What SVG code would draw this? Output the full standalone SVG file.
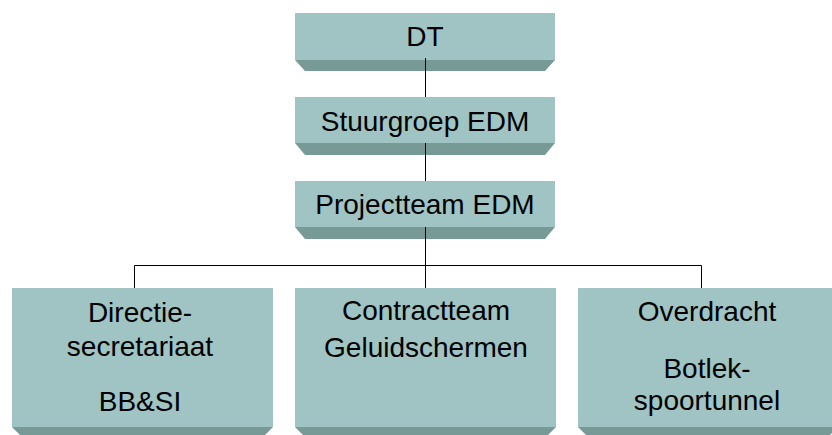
<svg xmlns="http://www.w3.org/2000/svg" width="832" height="435" viewBox="0 0 832 435">
<style>
.face{fill:#9fc4c3}
.bevel{fill:#789a97}
.t{font-family:"Liberation Sans",Arial,sans-serif;font-size:28px;fill:#000;text-anchor:middle}
.c{stroke:#000;stroke-width:1;fill:none}
</style>
<rect width="832" height="435" fill="#fff"/>
<g id="n-dt">
<rect class="face" x="295" y="13" width="260" height="47"/>
<polygon class="bevel" points="295,60 555,60 545,71 305,71"/>
<text class="t" x="425" y="46">DT</text>
</g>
<g id="n-stuurgroep">
<rect class="face" x="295" y="97" width="260" height="46"/>
<polygon class="bevel" points="295,143 555,143 545,155 305,155"/>
<text class="t" x="425" y="131">Stuurgroep EDM</text>
</g>
<g id="n-projectteam">
<rect class="face" x="295" y="181" width="260" height="46"/>
<polygon class="bevel" points="295,227 555,227 545,239 305,239"/>
<text class="t" x="425" y="214">Projectteam EDM</text>
</g>
<g id="n-directie">
<rect class="face" x="12" y="288" width="261" height="139"/>
<polygon class="bevel" points="12,427 273,427 265,435 20,435"/>
<text class="t" x="140" y="322">Directie-</text>
<text class="t" x="140" y="356">secretariaat</text>
<text class="t" x="140" y="411">BB&amp;SI</text>
</g>
<g id="n-contractteam">
<rect class="face" x="295" y="288" width="261" height="139"/>
<polygon class="bevel" points="295,427 556,427 548,435 303,435"/>
<text class="t" x="426" y="320">Contractteam</text>
<text class="t" x="426" y="357">Geluidschermen</text>
</g>
<g id="n-overdracht">
<rect class="face" x="578" y="288" width="260" height="139"/>
<polygon class="bevel" points="578,427 838,427 830,435 586,435"/>
<text class="t" x="707" y="321">Overdracht</text>
<text class="t" x="707" y="378">Botlek-</text>
<text class="t" x="707" y="410">spoortunnel</text>
</g>
<g id="connectors">
<path class="c" d="M425.5,58 V97 M425.5,143 V181 M425.5,227 V288 M134.5,288 V265.5 H701.5 V288"/>
</g>
</svg>
